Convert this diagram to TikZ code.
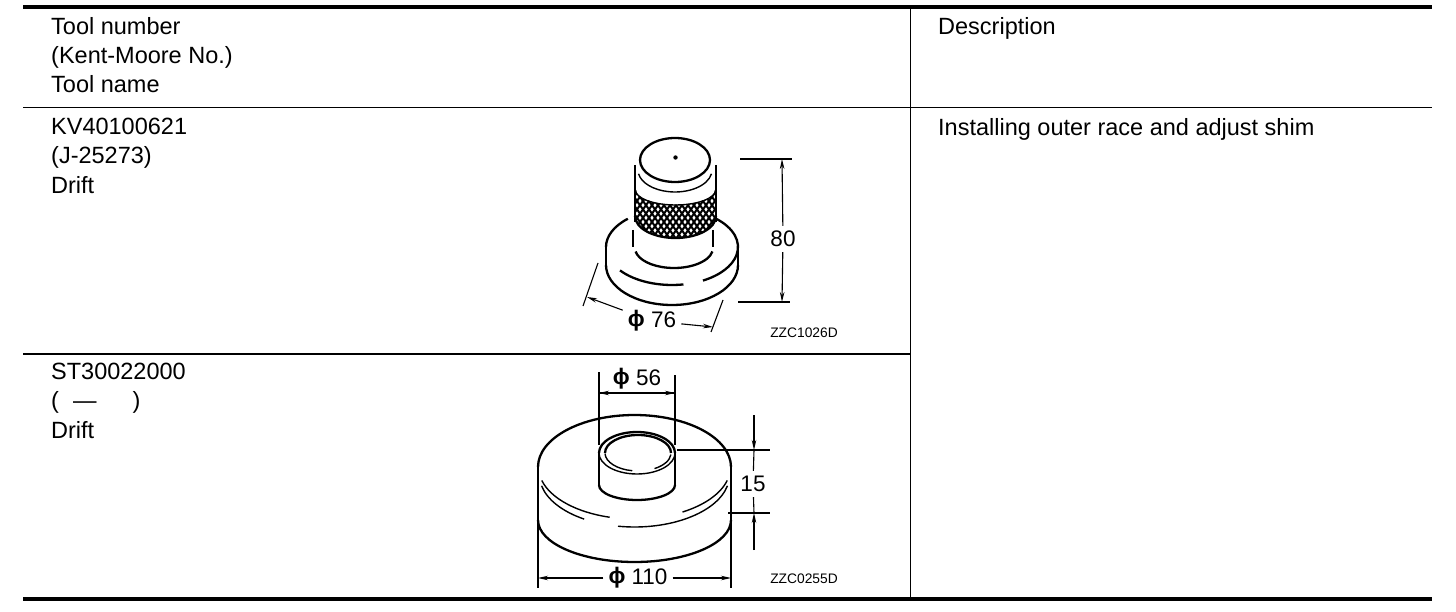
\documentclass[tikz,border=0pt]{standalone}
\usepackage{fontspec}
\setmainfont{Liberation Sans}
\usepackage{tikz}
\usetikzlibrary{arrows.meta,positioning}
\tikzset{
    cell/.style={anchor=north west, align=left, inner sep=0pt, font=\fontsize{23.5}{29.3}\selectfont},
    dimlabel/.style={inner sep=5pt, font=\fontsize{22.5}{24}\selectfont},
    figcode/.style={inner sep=0pt, font=\fontsize{13.8}{15}\selectfont},
    rule/.style={black, line width=1.2pt},
    heavyrule/.style={black, line width=4pt},
    part/.style={black, line width=2.3pt},
    thinpart/.style={black, line width=1.4pt},
    dimline/.style={black, line width=1.1pt},
    dimarrow/.style={dimline, -{Stealth[length=10pt,width=4.5pt]}}
}
% elliptical arc: centre x, centre y, x radius, y radius, from, to
\newcommand{\ringarc}[7][part]{
    \draw[#1] ({#2+#4*cos(#6)},{#3+#5*sin(#6)}) arc[start angle=#6, end angle=#7, x radius=#4, y radius=#5];
}
\newcommand{\dia}{\raisebox{1pt}{\textbf{ϕ}}}
\begin{document}
\begin{tikzpicture}[x=1pt,y=-1pt]
    \useasboundingbox (0,0) rectangle (1456,612);

    % Table
    \draw[heavyrule] (23,7) -- (1432,7);
    \draw[heavyrule] (23,599) -- (1432,599);
    \draw[rule] (23,107.5) -- (1432,107.5);
    \draw[rule] (23,354) -- (910,354);
    \draw[rule] (910.5,7) -- (910.5,599);

    \node[cell] (headtool) at (51,17) {Tool number\\(Kent-Moore No.)\\Tool name};
    \node[cell] (headdesc) at (938,17) {Description};
    \node[cell] (toolone) at (51,118) {KV40100621\\(J-25273)\\Drift};
    \node[cell] (tooltwo) at (51,363) {ST30022000\\(\hspace{14pt}—\hspace{36pt})\\Drift};
    \node[cell] (descone) at (938,118) {Installing outer race and adjust shim};

    % Drift with knurl
    \ringarc{672}{247}{66}{38}{-48}{62}
    \ringarc{672}{247}{66}{38}{80}{142}
    \ringarc{672}{247}{66}{38}{180}{228}
    \ringarc{672}{265}{66}{40}{0}{180}
    \draw[part] (606,247) -- (606,265);
    \draw[part] (738,247) -- (738,265);

    \begin{scope}
        \clip (635,192) -- (635,220)
            .. controls (648,244) and (703,244) .. (716,220) -- (716,192)
            .. controls (703,209) and (648,209) .. (635,192) -- cycle;
        \fill[white] (630,185) rectangle (720,250);
        \foreach \k in {0,6,...,150}{
            \draw[black, line width=2pt] ({610+\k},180) -- ({610+\k-50},250);
            \draw[black, line width=2pt] ({580+\k},180) -- ({580+\k+50},250);
        }
    \end{scope}
    \draw[part] (635,165) -- (635,222);
    \draw[part] (716,165) -- (716,222);
    \ringarc{675.5}{216}{40.5}{22}{0}{180}
    \ringarc[thinpart]{675.5}{190}{40}{15}{0}{180}
    \ringarc[thinpart]{675}{170}{37}{22}{10}{170}
    \ringarc{675}{160}{35}{22}{0}{360}
    \fill[black] (675.5,157.5) circle [radius=2.2];
    \draw[part] (633,230) -- (633,247);
    \draw[part] (713,230) -- (713,247);
    \ringarc{674}{248}{39}{20}{10}{170}

    % Dimensions of first drift
    \coordinate (tallhi) at (782,159);
    \coordinate (talllo) at (782,302);
    \coordinate (widel) at (587,297);
    \coordinate (wider) at (713,327);
    \node[dimlabel] (tallval) at (783,239) {80};
    \node[dimlabel] (wideval) at (652,321) {\dia\ 76};
    \node[figcode] (figone) at (804,333) {ZZC1026D};
    \draw[dimline] (740,159) -- (792,159);
    \draw[dimline] (738,302) -- (790,302);
    \draw[dimline] (598,263) -- (583,306);
    \draw[dimline] (723,300) -- (711,332);
    \draw[dimarrow] (tallval) -- (tallhi);
    \draw[dimarrow] (tallval) -- (talllo);
    \draw[dimarrow] (wideval) -- (widel);
    \draw[dimarrow] (wideval) -- (wider);

    % Drift with flat base
    \ringarc{634.5}{467}{96.5}{52}{0}{-180}
    \ringarc{634.5}{520}{96.5}{42}{0}{180}
    \draw[part] (538,465) -- (538,520);
    \draw[part] (731,465) -- (731,520);
    \ringarc[thinpart]{634.5}{467}{96}{52}{15}{60}
    \ringarc[thinpart]{634.5}{467}{96}{52}{105}{165}
    \ringarc[thinpart]{634.5}{475}{95}{52}{12}{100}
    \ringarc[thinpart]{634.5}{475}{95}{52}{122}{168}

    \fill[white] (599,453) rectangle (675,487);
    \ringarc{637}{453}{38}{21}{180}{360}
    \ringarc[thinpart]{637}{453}{38}{21}{0}{180}
    \ringarc{638}{453}{33}{18}{180}{360}
    \ringarc[thinpart]{638}{453}{33}{18}{100}{178}
    \ringarc[thinpart]{638}{453}{33}{18}{5}{60}
    \draw[part] (599,451) -- (599,485);
    \draw[part] (675,451) -- (675,485);
    \ringarc{637}{485}{38}{15}{0}{180}

    % Dimensions of second drift
    \coordinate (borel) at (599,393);
    \coordinate (borer) at (675,393);
    \coordinate (basel) at (538,578);
    \coordinate (baser) at (731,578);
    \coordinate (stepabove) at (754,415);
    \coordinate (stepbelow) at (754,550);
    \coordinate (stephi) at (754,450);
    \coordinate (steplo) at (754,513);
    \node[dimlabel,inner sep=2pt] (boreval) at (637,379) {\dia\ 56};
    \node[dimlabel] (stepval) at (753,484) {15};
    \node[dimlabel] (baseval) at (638,578) {\dia\ 110};
    \node[figcode] (figtwo) at (804,579) {ZZC0255D};
    \draw[dimline] (599,372) -- (599,445);
    \draw[dimline] (675,375) -- (675,445);
    \draw[dimline] (677,450) -- (770,450);
    \draw[dimline] (728,513) -- (770,513);
    \draw[dimline] (538,520) -- (538,588);
    \draw[dimline] (731,520) -- (731,588);
    \draw[dimarrow] (borer) -- (borel);
    \draw[dimarrow] (borel) -- (borer);
    \draw[dimarrow] (stepabove) -- (stephi);
    \draw[dimarrow] (stepbelow) -- (steplo);
    \draw[dimline] (stephi) -- (stepval);
    \draw[dimline] (stepval) -- (steplo);
    \draw[dimarrow] (baseval) -- (basel);
    \draw[dimarrow] (baseval) -- (baser);
\end{tikzpicture}
\end{document}
